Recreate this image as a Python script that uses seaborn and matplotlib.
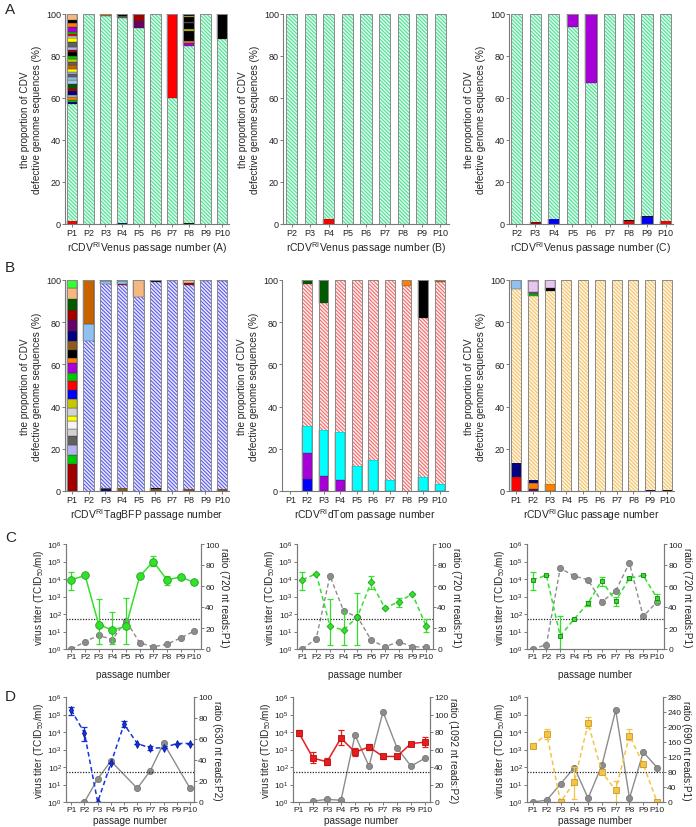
import matplotlib
matplotlib.use("Agg")
import matplotlib.pyplot as plt
import matplotlib.ticker as mticker
import numpy as np
import seaborn as sns

# ---------------- data ----------------
P_ALL = ["P1", "P2", "P3", "P4", "P5", "P6", "P7", "P8", "P9", "P10"]
P_FROM2 = P_ALL[1:]

# stacked DVG composition, each bar = list of (dvg type, percent) from the bottom
# "main" is the dominant (hatched) DVG of each virus
venus_a = [
    [("red", 1.5), ("main", 55.5), ("navy", 1), ("green", 1.2), ("orange", 1.3), ("steel", 1),
     ("navy", 2), ("darkred", 1.5), ("darkgreen", 1.5), ("steel", 2), ("lightblue", 1.5),
     ("gray", 1.5), ("lavender", 1), ("yellow", 1.5), ("brown", 1.5), ("gray", 1.5),
     ("olive", 1.5), ("green", 1.5), ("black", 2), ("darkred", 1), ("lavender", 1.5),
     ("gray", 2), ("yellow", 2), ("lightgray", 1), ("red", 1), ("green", 1), ("purple", 2.5),
     ("orange", 1.5), ("black", 1.5), ("peach", 3)],
    [("main", 100)],
    [("main", 99.2), ("brown", 0.8)],
    [("navy", 0.5), ("main", 97.5), ("gray", 1), ("black", 1)],
    [("main", 93.5), ("plum", 3), ("darkred", 3.5)],
    [("main", 100)],
    [("main", 60), ("red", 40)],
    [("black", 0.5), ("main", 84.5), ("purple", 1), ("orange", 1), ("black", 5), ("olive", 0.7),
     ("black", 3), ("gray", 0.6), ("black", 2.2), ("yellow", 0.5), ("black", 0.5), ("green", 0.5)],
    [("main", 100)],
    [("main", 88), ("black", 12)],
]
venus_b = [
    [("main", 100)], [("main", 100)], [("red", 2.5), ("main", 97.5)],
    [("main", 100)], [("main", 100)], [("main", 100)], [("main", 100)],
    [("main", 100)], [("main", 100)],
]
venus_c = [
    [("main", 100)],
    [("darkred", 0.8), ("main", 99.2)],
    [("blue", 2.5), ("main", 97.5)],
    [("main", 94), ("purple", 6)],
    [("main", 67), ("purple", 33)],
    [("main", 100)],
    [("red", 1.2), ("black", 0.5), ("main", 98.3)],
    [("blue", 3.2), ("black", 0.5), ("main", 96.3)],
    [("red", 1.5), ("main", 98.5)],
]
tagbfp = [
    [("darkred", 13), ("green", 4), ("lavender", 5), ("gray", 4), ("lightgray", 3.5), ("white", 3.5),
     ("yellow", 2.5), ("lightgray", 4), ("olive", 4), ("blue", 4.5), ("red", 4), ("green", 4),
     ("purple", 4.5), ("orange", 2.5), ("black", 4), ("umber", 4), ("navy", 5), ("plum", 5),
     ("darkred", 5), ("darkgreen", 5), ("peach", 5), ("lime", 4)],
    [("main", 71), ("lightblue", 8), ("brown", 21)],
    [("navy", 1), ("umber", 0.5), ("main", 96.5), ("lightblue", 1.3), ("black", 0.7)],
    [("umber", 1.5), ("main", 96), ("red", 0.5), ("lightblue", 1.3), ("black", 0.7)],
    [("main", 92), ("peach", 8)],
    [("umber", 1), ("black", 0.5), ("main", 97.5), ("black", 0.3), ("lightblue", 0.7)],
    [("main", 99.4), ("lavender", 0.6)],
    [("umber", 0.8), ("main", 96.7), ("darkred", 1), ("peach", 1.5)],
    [("main", 99.5), ("lavender", 0.5)],
    [("umber", 1), ("main", 98.5), ("brown", 0.5)],
]
dtom = [
    [],
    [("blue", 5.5), ("purple", 12.5), ("cyan", 13), ("main", 67), ("darkgreen", 2)],
    [("purple", 7), ("cyan", 22), ("main", 60), ("darkgreen", 11)],
    [("purple", 5), ("cyan", 23), ("main", 72)],
    [("cyan", 12), ("main", 88)],
    [("cyan", 14.5), ("main", 85.5)],
    [("cyan", 5), ("main", 95)],
    [("main", 97), ("orange", 3)],
    [("cyan", 6.5), ("main", 75.5), ("black", 18)],
    [("cyan", 3.5), ("main", 95.5), ("orange", 0.5), ("black", 0.5)],
]
gluc = [
    [("red", 6.5), ("navy", 7), ("main", 82), ("lightblue", 4.5)],
    [("plum", 1), ("orange", 3), ("navy", 1), ("main", 87.5), ("green", 1), ("gray", 1),
     ("pink", 5), ("brown", 0.5)],
    [("orange", 3.5), ("main", 91.5), ("black", 1), ("pink", 4)],
    [("main", 100)], [("main", 100)], [("main", 100)], [("main", 100)], [("main", 100)],
    [("navy", 0.5), ("main", 99.5)],
    [("black", 0.3), ("main", 99.7)],
]

# virus titer (TCID50/ml) with error range, and DVG read ratio
venus_a_titer = [9e3, 1.6e4, 25, 12, 20, 1.4e4, 1.0e5, 9e3, 1.3e4, 6.5e3]
venus_a_lo = [2.5e3, 1.6e4, 2, 2, 2, 1.4e4, 5.7e4, 4.7e3, 1.3e4, 5.5e3]
venus_a_hi = [2.5e4, 1.6e4, 700, 130, 850, 1.4e4, 2e5, 1.5e4, 1.3e4, 7.5e3]
venus_a_ratio = [0, 7, 13, 9, 27, 6, 2, 4.5, 10.5, 17]

venus_b_titer = [9e3, 2e4, 20, 12, 70, 6.5e3, 220, 500, 1.4e3, 20]
venus_b_lo = [2.5e3, 2e4, 1.7, 1.7, 1.8, 2.7e3, 220, 240, 1.4e3, 9]
venus_b_hi = [2.5e4, 2e4, 700, 130, 1.6e3, 1.55e4, 220, 850, 1.4e3, 50]
venus_b_ratio = [0, 10, 69.5, 36, 30.5, 8.5, 2, 7, 2, 2]

venus_c_titer = [9e3, 1.6e4, 5.5, 50, 400, 8e3, 560, 1.1e4, 1.6e4, 800]
venus_c_lo = [2.5e3, 1.6e4, 1, 50, 300, 4.2e3, 300, 9e3, 1.6e4, 500]
venus_c_hi = [2.5e4, 1.6e4, 80, 50, 550, 1.35e4, 930, 1.3e4, 1.6e4, 1.35e3]
venus_c_ratio = [0, 4, 77, 69.5, 66, 45, 55, 82, 31, 45]

tagbfp_titer = [1.8e5, 8.7e3, 1, 160, 2.8e4, 2.2e3, 1.2e3, 1.25e3, 2.2e3, 2.2e3]
tagbfp_lo = [1e5, 3e3, 1, 160, 2e4, 2.2e3, 9.5e2, 1.25e3, 2.2e3, 2.2e3]
tagbfp_hi = [2.8e5, 2e4, 1, 160, 4.5e4, 2.2e3, 1.6e3, 1.25e3, 2.2e3, 2.2e3]
tagbfp_ratio = [np.nan, 0, 22, 39, np.nan, 13, 30, 56, np.nan, 13]

dtom_titer = [8.7e3, 320, 200, 4.5e3, 700, 1.4e3, 400, 400, 2.2e3, 2.6e3]
dtom_lo = [5.6e3, 160, 125, 1.8e3, 400, 900, 280, 280, 2.2e3, 1.4e3]
dtom_hi = [1.25e4, 700, 320, 1.25e4, 1.25e3, 2.2e3, 560, 560, 2.2e3, 5e3]
dtom_ratio = [np.nan, 1, 3, 2, 76.5, 41, 103, 62, 41, 50]

gluc_titer = [1.6e3, 8e3, 1, 14, 3.2e4, 50, 4.8, 6.3e3, 140, 1]
gluc_lo = [1.6e3, 4e3, 1, 1.4, 1.6e4, 50, 1, 3.5e3, 100, 1]
gluc_hi = [1.6e3, 1.4e4, 1, 100, 7e4, 50, 16, 1.4e4, 200, 1]
gluc_ratio = [0, 5, 48, 92, 10, 98, 245, 10, 133, 92]

CUTOFF = 50

# ---------------- style ----------------
DVG_COLORS = {
    "red": "#ff0000", "black": "#000000", "purple": "#a800d8", "blue": "#0000ff",
    "navy": "#000080", "darkred": "#a00000", "plum": "#660066", "green": "#00c800",
    "lime": "#33ff33", "darkgreen": "#005a00", "orange": "#ff8000", "peach": "#f5b880",
    "brown": "#c86400", "umber": "#8b5a1e", "yellow": "#ffff00", "olive": "#c8c800",
    "gray": "#606060", "lightgray": "#d2d2d2", "white": "#f5f5f5", "lavender": "#b4b4f0",
    "lightblue": "#92c0f0", "steel": "#a8c8ec", "cyan": "#00ffff", "pink": "#e8c4f0",
}
HATCH = "\\" * 9

sns.set_style("ticks")
plt.rcParams["font.family"] = ["Liberation Sans", "DejaVu Sans"]
plt.rcParams["hatch.linewidth"] = 0.7
plt.rcParams["axes.edgecolor"] = "#7a7a7a"
plt.rcParams["xtick.color"] = "#7a7a7a"
plt.rcParams["ytick.color"] = "#7a7a7a"
plt.rcParams["xtick.labelcolor"] = "#222222"
plt.rcParams["ytick.labelcolor"] = "#222222"

W, H = 696, 828
fig = plt.figure(figsize=(W / 100, H / 100), dpi=100)

TICK_FS = 6
LAB_FS = 7.2


def add_ax(left, top, right, bottom):
    return fig.add_axes([left / W, 1 - bottom / H, (right - left) / W, (bottom - top) / H])


def bar_panel(box, bars, labels, xlabel, face, hatch_col, xlim, width):
    ax = add_ax(*box)
    for i, segs in enumerate(bars):
        base = 0
        for key, h in segs:
            if key == "main":
                ax.bar(i, h, bottom=base, width=width, color=face, edgecolor=hatch_col,
                       linewidth=0, hatch=HATCH)
            else:
                ax.bar(i, h, bottom=base, width=width, color=DVG_COLORS[key],
                       edgecolor="#333333", linewidth=0.25)
            base += h
        if segs:
            ax.bar(i, base, width=width, fill=False, edgecolor="#8a8a8a", linewidth=0.7)
    ax.set_xlim(*xlim)
    ax.set_ylim(0, 100)
    ax.set_yticks(range(0, 101, 20))
    ax.set_xticks(range(len(labels)))
    ax.set_xticklabels(labels)
    ax.tick_params(labelsize=TICK_FS + 0.5, length=2, width=0.7, pad=1)
    ax.set_ylabel("the proportion of CDV\ndefective genome sequences (%)", fontsize=LAB_FS, labelpad=3)
    ax.set_xlabel(xlabel, fontsize=LAB_FS + 0.3, labelpad=1.5)
    sns.despine(ax=ax)
    return ax


def titer_panel(box, titer, lo, hi, ratio, rmax, rstep, color, ls, marker, msize, medge,
                gray_ls, rlabel, xlim, xpad):
    ax = add_ax(*box)
    ax2 = ax.twinx()
    x = np.arange(len(titer))
    titer = np.asarray(titer, float)
    lo = np.asarray(lo, float)
    hi = np.asarray(hi, float)
    ratio = np.asarray(ratio, float)
    ok = ~np.isnan(ratio)
    sns.lineplot(x=x[ok], y=ratio[ok], ax=ax2, color="#8c8c8c", linestyle=gray_ls,
                 linewidth=1.0, marker="o", markersize=4.5, markeredgecolor="#6e6e6e",
                 markerfacecolor="#8c8c8c", markeredgewidth=0.5)
    ax.set_yscale("log")
    ax.axhline(CUTOFF, color="#222222", linestyle=(0, (1, 1.2)), linewidth=0.9)
    ax.errorbar(x, titer, yerr=[titer - lo, hi - titer], fmt="none", ecolor=color,
                elinewidth=0.9, capsize=2.5, capthick=0.9)
    sns.lineplot(x=x, y=titer, ax=ax, color=color, linestyle=ls, linewidth=1.1,
                 marker=marker, markersize=msize, markerfacecolor=color,
                 markeredgecolor=medge, markeredgewidth=0.6)
    ax.set_zorder(ax2.get_zorder() + 1)
    ax.patch.set_visible(False)
    ax.set_ylim(1, 1e6)
    ax.yaxis.set_major_locator(mticker.FixedLocator([10.0 ** k for k in range(7)]))
    ax.yaxis.set_minor_locator(mticker.NullLocator())
    ax.yaxis.set_major_formatter(mticker.FuncFormatter(
        lambda v, p: r"$\mathregular{10^{%d}}$" % round(np.log10(v))))
    ax2.set_ylim(0, rmax)
    ax2.set_yticks(np.arange(0, rmax + 1, rstep))
    ax.set_xlim(*xlim)
    ax.set_xticks(x)
    ax.set_xticklabels(P_ALL)
    for a in (ax, ax2):
        a.tick_params(labelsize=TICK_FS, length=2, width=0.7, pad=1)
        a.spines["top"].set_visible(False)
    ax.set_xlabel("passage number", fontsize=LAB_FS, labelpad=xpad)
    ax.set_ylabel(r"virus titer (TCID$_{\mathregular{50}}$/ml)", fontsize=LAB_FS, labelpad=1)
    ax2.set_ylabel(rlabel, fontsize=LAB_FS, rotation=270, labelpad=7)
    return ax


# row A
bar_panel((65, 15, 229, 225), venus_a, P_ALL, r"rCDV$^{\mathregular{RI}}$Venus passage number (A)",
          "#dcf8e8", "#3fe090", (-0.42, 9.42), 0.63)
bar_panel((283, 15, 449, 225), venus_b, P_FROM2, r"rCDV$^{\mathregular{RI}}$Venus passage number (B)",
          "#dcf8e8", "#3fe090", (-0.46, 8.46), 0.6)
bar_panel((509, 15, 673, 225), venus_c, P_FROM2, r"rCDV$^{\mathregular{RI}}$Venus passage number (C)",
          "#dcf8e8", "#3fe090", (-0.4, 8.4), 0.6)

# row B
bar_panel((65, 281, 229, 492), tagbfp, P_ALL, r"rCDV$^{\mathregular{RI}}$TagBFP passage number",
          "#e6e6ff", "#5050e6", (-0.42, 9.42), 0.63)
bar_panel((282, 281, 448, 492), dtom, P_ALL, r"rCDV$^{\mathregular{RI}}$dTom passage number",
          "#ffeaea", "#f06060", (-0.5, 9.5), 0.6)
bar_panel((509, 281, 674, 492), gluc, P_ALL, r"rCDV$^{\mathregular{RI}}$Gluc passage number",
          "#fff4e0", "#f2c060", (-0.42, 9.42), 0.6)

# row C
titer_panel((66, 545, 201, 650), venus_a_titer, venus_a_lo, venus_a_hi, venus_a_ratio, 100, 20,
            "#33e02a", "-", "o", 5.5, "#22a020", (0, (3, 2)), "ratio (720 nt reads:P1)",
            (-0.4, 9.5), 6)
titer_panel((297, 545, 433, 650), venus_b_titer, venus_b_lo, venus_b_hi, venus_b_ratio, 100, 20,
            "#33e02a", (0, (3, 2)), "D", 3.5, "#22a020", (0, (3, 2)), "ratio (720 nt reads:P1)",
            (-0.4, 9.5), 6)
titer_panel((527, 545, 664, 650), venus_c_titer, venus_c_lo, venus_c_hi, venus_c_ratio, 100, 20,
            "#33e02a", (0, (3, 2)), "s", 3.5, "#1a7a1a", (0, (3, 2)), "ratio (720 nt reads:P1)",
            (-0.4, 9.5), 6)

# row D
titer_panel((66, 698, 194, 803), tagbfp_titer, tagbfp_lo, tagbfp_hi, tagbfp_ratio, 100, 20,
            "#1530e6", (0, (3, 2)), "d", 4, "#0a1a90", "-", "ratio (630 nt reads:P2)",
            (-0.4, 9.3), 1.5)
titer_panel((293, 698, 430, 803), dtom_titer, dtom_lo, dtom_hi, dtom_ratio, 120, 20,
            "#e81c1c", "-", "s", 4, "#b01010", "-", "ratio (1092 nt reads:P2)",
            (-0.43, 9.36), 1.5)
titer_panel((527, 698, 663, 803), gluc_titer, gluc_lo, gluc_hi, gluc_ratio, 280, 40,
            "#f5c445", (0, (3, 2)), "s", 5, "#c89a28", "-", "ratio (690 nt reads:P1)",
            (-0.43, 9.43), 1.5)

for letter, ypix in (("A", 10), ("B", 268), ("C", 538), ("D", 697)):
    fig.text(5 / W, 1 - ypix / H, letter, fontsize=11, va="center", ha="left")

fig.savefig("out.png", dpi=100)
